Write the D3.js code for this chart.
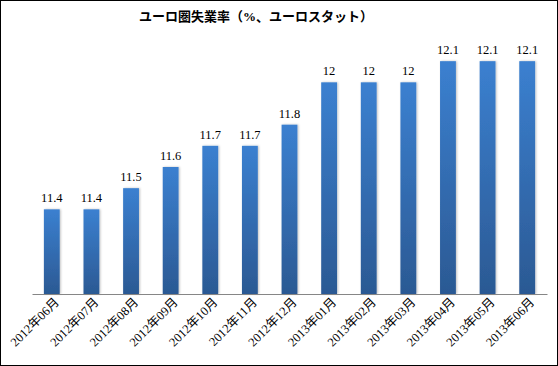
<!DOCTYPE html>
<html><head><meta charset="utf-8">
<script src="https://cdn.jsdelivr.net/npm/d3@7"></script>
<style>body{margin:0;background:#fff}svg{display:block}</style>
</head><body>
<script>
const categories = ["2012年06月","2012年07月","2012年08月","2012年09月","2012年10月","2012年11月","2012年12月","2013年01月","2013年02月","2013年03月","2013年04月","2013年05月","2013年06月"];
const values = [11.4,11.4,11.5,11.6,11.7,11.7,11.8,12,12,12,12.1,12.1,12.1];
const labels = ["11.4","11.4","11.5","11.6","11.7","11.7","11.8","12","12","12","12.1","12.1","12.1"];
const title = "ユーロ圏失業率（%、ユーロスタット）";

const W=558,H=366;
const svg=d3.select("body").append("svg").attr("width",W).attr("height",H);
const defs=svg.append("defs");
const g=defs.append("linearGradient").attr("id","bg").attr("x1",0).attr("y1",0).attr("x2",0).attr("y2",1);
g.append("stop").attr("offset","0%").attr("stop-color","#3b80d0");
g.append("stop").attr("offset","100%").attr("stop-color","#2b5993");
const f=defs.append("filter").attr("id","sh").attr("x","-30%").attr("y","-10%").attr("width","160%").attr("height","120%");
f.append("feDropShadow").attr("dx",1).attr("dy",0).attr("stdDeviation",1).attr("flood-color","#000").attr("flood-opacity",0.25);

svg.append("rect").attr("x",0.5).attr("y",0.5).attr("width",W-1).attr("height",H-1).attr("fill","#fff").attr("stroke","#000").attr("stroke-width",1);

const x=d3.scaleBand().domain(categories).range([32,547]).paddingInner(0.6).paddingOuter(0.3);
const y=d3.scaleLinear().domain([11,12.2]).range([294,40]);
const font="'Liberation Serif','DejaVu Serif','Noto Sans CJK JP',serif";

svg.append("text").attr("x",256).attr("y",21).attr("text-anchor","middle")
  .attr("font-family",font).attr("font-weight","bold").attr("font-size",13).text(title);

svg.selectAll("rect.bar").data(values).enter().append("rect").attr("class","bar")
  .attr("x",(d,i)=>x(categories[i])).attr("width",x.bandwidth())
  .attr("y",d=>y(d)).attr("height",d=>y(11)-y(d))
  .attr("fill","url(#bg)").attr("filter","url(#sh)");

svg.selectAll("text.val").data(values).enter().append("text").attr("class","val")
  .attr("x",(d,i)=>x(categories[i])+x.bandwidth()/2).attr("y",d=>y(d)-7)
  .attr("text-anchor","middle").attr("font-family",font).attr("font-size",12.5).attr("fill","#000")
  .text((d,i)=>labels[i]);

const ax=svg.append("g").attr("transform","translate(0,294)").call(d3.axisBottom(x).tickSize(0).tickPadding(0));
ax.select(".domain").attr("stroke","#868686").attr("stroke-width",1);
ax.selectAll("text").attr("font-family",font).attr("font-size",12.5).attr("fill","#000")
  .attr("text-anchor","end").attr("dy",0).attr("y",0)
  .attr("transform","translate(8,9) rotate(-45)");
</script>
</body></html>
